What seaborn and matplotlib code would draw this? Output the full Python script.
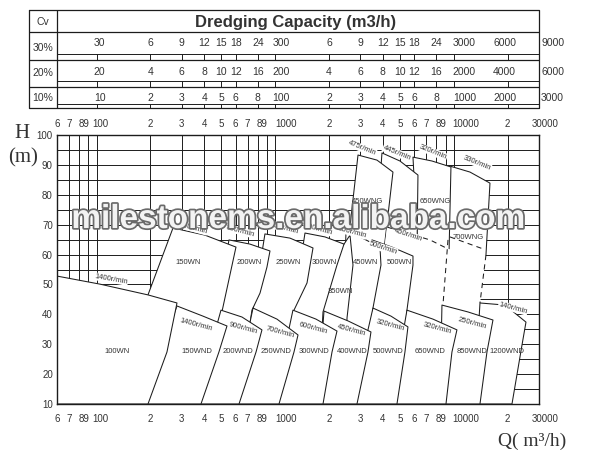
import numpy as np
import matplotlib
matplotlib.use("Agg")
import matplotlib.pyplot as plt
import matplotlib.patheffects as pe
from matplotlib import transforms
from matplotlib.patches import Polygon
from matplotlib.ticker import NullLocator
import seaborn as sns

sns.set_theme(style="white")
plt.rcParams['font.family'] = ['Liberation Sans', 'DejaVu Sans']

INK = '#1c1c1c'
TXT = '#333333'

# ---------------- data ----------------
# dredging capacity table: flow positions and the solids capacity at each Cv
table_q = [100, 200, 300, 400, 500, 600, 800, 1000, 2000, 3000, 4000, 5000, 6000, 8000, 10000, 20000, 30000]
cap_30 = ['30', '6', '9', '12', '15', '18', '24', '300', '6', '9', '12', '15', '18', '24', '3000', '6000', '9000']
cap_20 = ['20', '4', '6', '8', '10', '12', '16', '200', '4', '6', '8', '10', '12', '16', '2000', '4000', '6000']
cap_10 = ['10', '2', '3', '4', '5', '6', '8', '100', '2', '3', '4', '5', '6', '8', '1000', '2000', '3000']
cv_rows = ['30%', '20%', '10%']

# flow axis labels (m3/h)
flow_q = [60, 70, 84.9, 100, 200, 300, 400, 500, 600, 700, 849, 1000,
          2000, 3000, 4000, 5000, 6000, 7000, 8485, 10000, 20000, 30000]
flow_lab = ['6', '7', '89', '100', '2', '3', '4', '5', '6', '7', '89', '1000',
            '2', '3', '4', '5', '6', '7', '89', '10000', '2', '30000']
head_ticks = [10, 20, 30, 40, 50, 60, 70, 80, 90, 100]

# pump zones: outline points, flow Q (m3/h) and head H (m)
# top row (WNG)
q_700wng = [9518, 12320, 15943, 15141, 14016, 8697, 9278]
h_700wng = [89.6, 87.6, 83.9, 59.85, 43.8, 43.1, 64.9]
q_650wng = [5908, 7547, 9641, 9398, 6300]
h_650wng = [92.6, 91.3, 89.3, 59.85, 61.5]
q_445 = [3961, 4995, 6300, 6222, 3620]
h_445 = [94.0, 91.3, 86.6, 60.9, 60.9]
q_450wng = [2908, 3714, 4564, 4064, 2589]
h_450wng = [93.3, 91.6, 87.6, 61.5, 66.5]
# dashed zone under 650WNG / 700WNG
q_dash = [4225, 7357, 9278, 14756, 14016, 14016, 4391, 4117]
h_dash = [69.2, 64.9, 61.9, 59.85, 43.8, 10, 10, 63.9]
q_700low = [9518, 14567]
h_700low = [65.9, 61.9]

# middle row (WN)
q_150wn = [267.7, 404, 603, 503, 404, 153.8, 193.9]
h_150wn = [68.9, 66.5, 62.5, 40.8, 10, 10, 46.5]
q_200wn = [551, 722, 935, 899, 822, 741, 619, 379]
h_200wn = [64.9, 63.5, 61.2, 55.8, 47.1, 41.4, 10, 10]
q_250wn = [876, 1210, 1628, 1507, 1274, 1050, 619]
h_250wn = [66.9, 65.5, 62.2, 50.5, 41.4, 10, 10]
q_300wn = [1468, 1900, 2428, 2218, 1852, 1736, 1050]
h_300wn = [67.2, 65.9, 63.5, 56.5, 40.8, 10, 10]
q_350wn = [2428, 2623, 2726, 2524, 2459, 1376, 1781]
h_350wn = [63.5, 66.5, 56.5, 38.8, 10, 10, 58.2]
q_450wn = [2491, 2983, 3861, 3911, 3527, 3182, 2305]
h_450wn = [67.5, 65.9, 62.5, 56.5, 42.1, 10, 10]
q_500wn = [3482, 4506, 5908, 5908, 5466, 4995, 2983]
h_500wn = [64.9, 62.5, 59.5, 56.5, 41.4, 10, 10]

# bottom row (WND) and 100WN
q_100wn = [60, 104.5, 193.9, 281.8, 247.7, 193.9, 60]
h_100wn = [52.8, 50.1, 46.5, 43.8, 27.4, 10, 10]
q_150wnd = [281.8, 394, 537, 484, 384, 179.5]
h_150wnd = [42.8, 39.4, 36.1, 27.4, 10, 10]
q_200wnd = [497, 651.5, 843, 781, 627, 355.5]
h_200wnd = [41.4, 39.1, 34.8, 27.4, 10, 10]
q_250wnd = [751, 1023, 1342, 1274, 1050, 580]
h_250wnd = [42.1, 38.4, 33.1, 27.4, 10, 10]
q_300wnd = [1257, 1692, 2218, 2080, 1852, 971]
h_300wnd = [41.4, 38.4, 34.4, 27.4, 10, 10]
q_400wnd = [1876, 2556, 3437, 3307, 2870, 1714]
h_400wnd = [41.1, 37.8, 34.1, 27.4, 10, 10]
q_500wnd = [3527, 4449, 5537, 5327, 4806, 2657]
h_500wnd = [42.1, 39.4, 35.8, 27.4, 10, 10]
q_650wnd = [5466, 7645, 10414, 9765, 9042, 4449]
h_650wnd = [41.4, 38.4, 34.8, 27.4, 10, 10]
q_850wnd = [8585, 12003, 16572, 15336, 14016, 8365]
h_850wnd = [43.1, 40.8, 38.1, 27.4, 10, 10]
q_1200wnd = [14016, 19350, 25363, 24088, 21176, 12973]
h_1200wnd = [43.8, 43.1, 37.4, 29.7, 10, 10]

# ---------------- figure ----------------
fig = plt.figure(figsize=(6.0, 4.53), dpi=100)
ax = fig.add_axes([57 / 600, 49 / 453, 482 / 600, 269 / 453])
ax.set_xscale('log')
ax.set_xlim(60, 30000)
ax.set_ylim(10, 100)
ax.xaxis.set_major_locator(NullLocator())
ax.xaxis.set_minor_locator(NullLocator())
ax.set_yticks(head_ticks)
ax.tick_params(axis='y', length=0, pad=3, labelsize=7, labelcolor=TXT)
for s in ax.spines.values():
    s.set_color(INK)
    s.set_linewidth(1.0)
    s.set_zorder(50)

# grid
grid_q = [m * 10 ** e for e in (1, 2, 3) for m in range(1, 10) if 60 < m * 10 ** e] + [10000, 20000]
ax.vlines(grid_q, 10, 100, color=INK, lw=0.7, zorder=1)
ax.hlines(np.arange(15, 100, 5), 60, 30000, color=INK, lw=0.7, zorder=1)


def zone(q, h, z, edge=True):
    ax.add_patch(Polygon(np.column_stack([q, h]), closed=True, facecolor='white',
                         edgecolor=INK if edge else 'none', lw=0.75, zorder=z,
                         joinstyle='round'))


# top row, drawn right to left so the left zone overlaps
zone(q_700wng, h_700wng, 2, edge=False)
ax.plot(q_700wng[:4], h_700wng[:4], color=INK, lw=0.75, zorder=2.1)
zone(q_650wng, h_650wng, 3)
zone(q_445, h_445, 4)
zone(q_450wng, h_450wng, 5)

zone(q_dash, h_dash, 6, edge=False)
dash = dict(color=INK, lw=0.75, ls=(0, (5, 4)), zorder=6.5)
ax.plot(q_dash[:3], h_dash[:3], **dash)
ax.plot(q_700low, h_700low, **dash)
ax.plot(q_700wng[3:5], h_700wng[3:5], **dash)
ax.plot([q_700wng[6], q_700wng[5]], [h_700wng[6], h_700wng[5]], **dash)

middle = [(q_500wn, h_500wn), (q_450wn, h_450wn), (q_350wn, h_350wn), (q_300wn, h_300wn),
          (q_250wn, h_250wn), (q_200wn, h_200wn), (q_150wn, h_150wn)]
for i, (q, h) in enumerate(middle):
    zone(q, h, 7 + i)

bottom = [(q_1200wnd, h_1200wnd), (q_850wnd, h_850wnd), (q_650wnd, h_650wnd),
          (q_500wnd, h_500wnd), (q_400wnd, h_400wnd), (q_300wnd, h_300wnd),
          (q_250wnd, h_250wnd), (q_200wnd, h_200wnd), (q_150wnd, h_150wnd),
          (q_100wn, h_100wn)]
for i, (q, h) in enumerate(bottom):
    zone(q, h, 14 + i)


def tag(q, h, s, rot=0, box=False, size=5.5):
    kw = dict(ha='center', va='center', fontsize=size, color=TXT, rotation=rot,
              rotation_mode='anchor', zorder=30)
    if box:
        kw['bbox'] = dict(boxstyle='square,pad=0.05', fc='white', ec='none')
    ax.text(q, h, s, **kw)


# zone names
for s, q, h in [('100WN', 130, 27.4), ('150WND', 365, 27.4), ('200WND', 619, 27.4),
                ('250WND', 1010, 27.4), ('300WND', 1649, 27.4), ('400WND', 2691, 27.4),
                ('500WND', 4280, 27.7), ('650WND', 7357, 27.4), ('850WND', 12642, 27.4),
                ('1200WND', 19853, 27.4),
                ('150WN', 325, 57.5), ('200WN', 713, 57.5), ('250WN', 1180, 57.5),
                ('300WN', 1876, 57.5), ('350WN', 2305, 47.5), ('450WN', 3223, 57.2),
                ('500WN', 4931, 57.2),
                ('450WNG', 3307, 77.9), ('650WNG', 7843, 77.9), ('700WNG', 12003, 65.6)]:
    tag(q, h, s)

# speeds inside the lower zones
for s, q, h in [('1400r/min', 360, 36.4), ('900r/min', 660, 35.4), ('700r/min', 1064, 34.1),
                ('600r/min', 1628, 35.4), ('450r/min', 2691, 34.8), ('320r/min', 4391, 36.4),
                ('320r/min', 8046, 35.4), ('250r/min', 12642, 37.1)]:
    tag(q, h, s, rot=-15)

# speeds sitting on the curves
for s, q, h, r in [('1400r/min', 120.4, 51.8, -10), ('140r/min', 21452, 42.1, -15),
                   ('475r/min', 3061, 95.6, -22), ('445r/min', 4806, 94.0, -22),
                   ('320r/min', 7645, 94.3, -22), ('330r/min', 13484, 90.6, -22),
                   ('450r/min', 5537, 66.5, -18), ('500r/min', 4013, 62.2, -18),
                   ('980r/min', 346, 68.9, -15), ('800r/min', 635, 67.9, -15),
                   ('730r/min', 1120, 68.9, -15), ('600r/min', 1736, 68.5, -15),
                   ('550r/min', 2691, 67.5, -15)]:
    tag(q, h, s, rot=r, box=True)

# flow labels above and below the chart
xt = ax.get_xaxis_transform()
decade_dx = {'100': -4, '1000': 0, '10000': -1, '30000': -7}
for q, s in zip(flow_q, flow_lab):
    ha, dx = ('left', decade_dx[s]) if s in decade_dx else ('center', 0)
    tr = transforms.offset_copy(xt, fig=fig, x=dx, y=0, units='dots')
    for yy in (1.041, -0.056):
        ax.text(q, yy, s, transform=tr, ha=ha, va='center', fontsize=7,
                color=TXT, clip_on=False)

fig.text(22 / 600, 1 - 134 / 453, 'H', family='Liberation Serif', fontsize=15,
         color=TXT, ha='center', va='center')
fig.text(23 / 600, 1 - 158 / 453, '(m)', family='Liberation Serif', fontsize=15,
         color=TXT, ha='center', va='center')
fig.text(532 / 600, 1 - 441 / 453, 'Q( m³/h)', family='Liberation Serif', fontsize=14,
         color=TXT, ha='center', va='center')

# ---------------- capacity table ----------------
axt = fig.add_axes([29 / 600, 345 / 453, 510 / 600, 98 / 453])
axt.set_xscale('log')
axt.set_xlim(41.8, 30000)
axt.set_ylim(108, 10)
axt.axis('off')
tl = dict(color=INK, lw=0.9, clip_on=False)
axt.plot([41.8, 30000, 30000, 41.8, 41.8], [10, 10, 108, 108, 10], **tl)
axt.vlines(60, 10, 108, **tl)
axt.hlines([32, 60, 87], 41.8, 30000, **tl)

fig.text(296 / 600, 1 - 22 / 453, 'Dredging Capacity (m3/h)', fontsize=12,
         fontweight='bold', color=TXT, ha='center', va='center')
axt.text(50, 22, 'Cv', ha='center', va='center', fontsize=7.5, color=TXT)

col_align = {0: ('center', 3), 7: ('left', -3), 14: ('left', -1), 15: ('center', -3), 16: ('left', 2)}
rows = [(cap_30, 43, 54.5, 60, 48), (cap_20, 72, 81.5, 87, 73), (cap_10, 98, 104.5, 108, 98)]
for name, (caps, ty, ly, by, ny) in zip(cv_rows, rows):
    axt.text(50, ny, name, ha='center', va='center', fontsize=7.5, color=TXT)
    axt.hlines(ly, 60, 30000, color=INK, lw=0.7)
    axt.vlines(table_q[:-1], ly, by, color=INK, lw=0.7)
    for i, (q, s) in enumerate(zip(table_q, caps)):
        ha, dx = col_align.get(i, ('center', 0))
        tr = transforms.offset_copy(axt.transData, fig=fig, x=dx, y=0, units='dots')
        axt.text(q, ty, s, transform=tr, ha=ha, va='center', fontsize=7.5,
                 color=TXT, clip_on=False)

# watermark across the chart
fig.text(299 / 600, 1 - 228 / 453, 'milestonems.en.alibaba.com', ha='center', va='baseline',
         fontsize=24, fontweight='bold', color='#f3f3f3', zorder=100,
         path_effects=[pe.withStroke(linewidth=2.5, foreground='#6a6a6a')])

fig.savefig('out.png', dpi=100)
